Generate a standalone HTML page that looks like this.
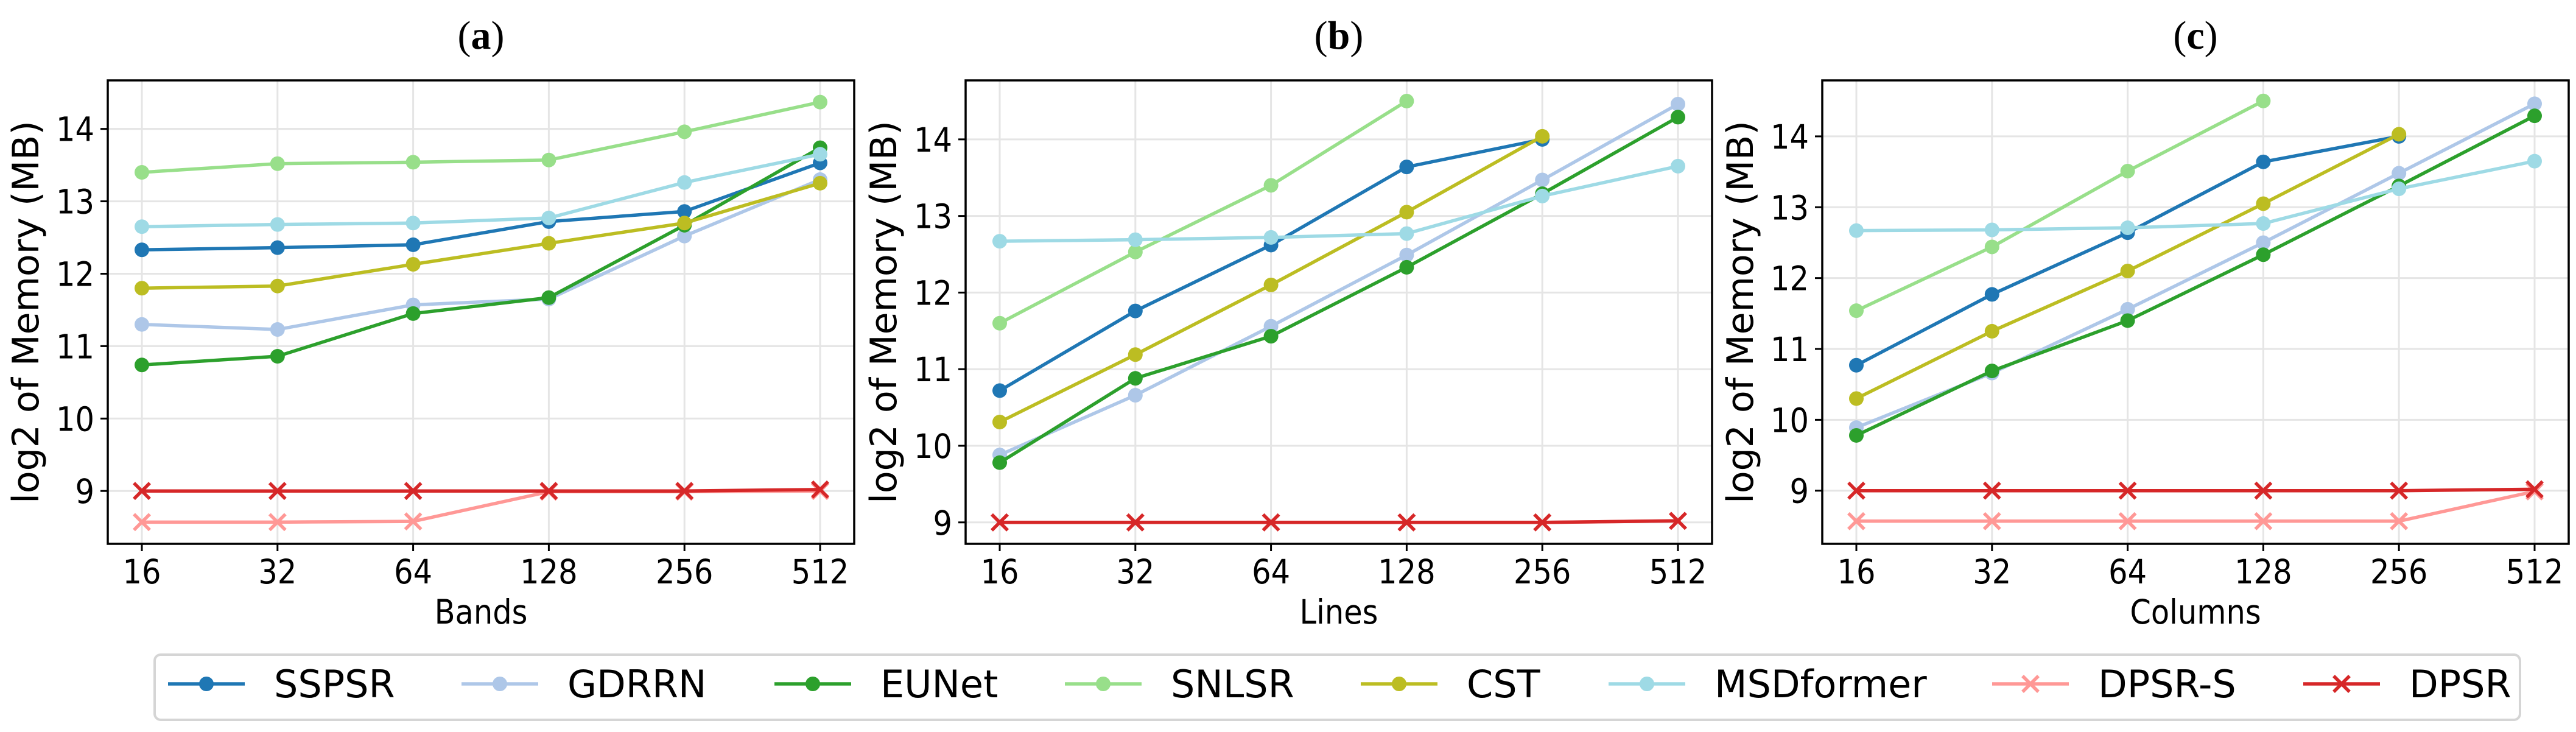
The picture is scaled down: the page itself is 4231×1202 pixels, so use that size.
<!DOCTYPE html>
<html><head><meta charset="utf-8">
<style>
html,body{margin:0;padding:0;background:#fff;}
svg{display:block;}
text{font-family:"DejaVu Sans","Liberation Sans",sans-serif;}
.tick{font-family:"DejaVu Sans Condensed","DejaVu Sans","Liberation Sans",sans-serif;font-size:55px;}
.ttl{font-family:"Liberation Serif","DejaVu Serif",serif;font-size:66px;}
</style></head>
<body>
<svg id="chart" width="4231" height="1202" viewBox="0 0 4231 1202" xmlns="http://www.w3.org/2000/svg"></svg>
<script>
const categories = ["16","32","64","128","256","512"];
const seriesNames = ["SSPSR","GDRRN","EUNet","SNLSR","CST","MSDformer","DPSR-S","DPSR"];
const seriesColors = ["#1f77b4","#aec7e8","#2ca02c","#98df8a","#bcbd22","#9edae5","#ff9896","#d62728"];
const seriesMarkers = ["o","o","o","o","o","o","x","x"];
const yTicks = [9,10,11,12,13,14];
const panelTitles = ["a","b","c"];
const panelXLabels = ["Bands","Lines","Columns"];

const bandsSSPSR = [12.33,12.36,12.40,12.72,12.86,13.53];
const bandsGDRRN = [11.30,11.23,11.57,11.65,12.52,13.30];
const bandsEUNet = [10.74,10.86,11.45,11.67,12.67,13.74];
const bandsSNLSR = [13.40,13.52,13.54,13.57,13.96,14.37];
const bandsCST = [11.80,11.83,12.13,12.42,12.70,13.25];
const bandsMSD = [12.65,12.68,12.70,12.77,13.26,13.65];
const bandsDPSRS = [8.57,8.57,8.58,8.99,8.99,9.00];
const bandsDPSR = [9.00,9.00,9.00,9.00,9.00,9.02];

const linesSSPSR = [10.72,11.76,12.62,13.64,14.00,null];
const linesGDRRN = [9.88,10.66,11.56,12.49,13.47,14.46];
const linesEUNet = [9.78,10.88,11.43,12.33,13.29,14.29];
const linesSNLSR = [11.60,12.53,13.40,14.50,null,null];
const linesCST = [10.31,11.19,12.10,13.05,14.04,null];
const linesMSD = [12.67,12.69,12.72,12.77,13.26,13.65];
const linesDPSRS = [9.00,9.00,9.00,9.00,9.00,9.02];
const linesDPSR = [9.00,9.00,9.00,9.00,9.00,9.02];

const colsSSPSR = [10.77,11.77,12.64,13.64,14.00,null];
const colsGDRRN = [9.89,10.66,11.56,12.50,13.48,14.46];
const colsEUNet = [9.78,10.69,11.40,12.33,13.30,14.29];
const colsSNLSR = [11.54,12.44,13.51,14.50,null,null];
const colsCST = [10.30,11.25,12.10,13.05,14.03,null];
const colsMSD = [12.67,12.68,12.71,12.77,13.26,13.65];
const colsDPSRS = [8.57,8.57,8.57,8.57,8.57,8.99];
const colsDPSR = [9.00,9.00,9.00,9.00,9.00,9.02];

const panelData = [
  [bandsSSPSR,bandsGDRRN,bandsEUNet,bandsSNLSR,bandsCST,bandsMSD,bandsDPSRS,bandsDPSR],
  [linesSSPSR,linesGDRRN,linesEUNet,linesSNLSR,linesCST,linesMSD,linesDPSRS,linesDPSR],
  [colsSSPSR,colsGDRRN,colsEUNet,colsSNLSR,colsCST,colsMSD,colsDPSRS,colsDPSR]
];
const yLims = [[8.27,14.67],[8.72,14.77],[8.25,14.79]];

const NS = "http://www.w3.org/2000/svg";
const svg = document.getElementById("chart");
function mk(tag, attrs, parent){
  const e = document.createElementNS(NS, tag);
  for (const k in attrs) e.setAttribute(k, attrs[k]);
  (parent||svg).appendChild(e);
  return e;
}
const axLefts = [177,1586,2993];
const axW = 1226, axTop = 132, axBot = 893;

for (let p=0;p<3;p++){
  const L = axLefts[p], R = L+axW;
  const g = mk("g",{});
  
  
  const [ymin,ymax] = yLims[p];
  const xs = i => L + 56 + i*(axW-112)/(categories.length-1);
  const ys = v => axBot - (v-ymin)/(ymax-ymin)*(axBot-axTop);
  // grid
  categories.forEach((c,i)=>{
    const gl = mk("line",{x1:xs(i),x2:xs(i),y1:axTop,y2:axBot,stroke:"#e5e5e5","stroke-width":3},g);
    
    
    const tk = mk("line",{x1:xs(i),x2:xs(i),y1:axBot,y2:axBot+12,stroke:"#000","stroke-width":3},g);
    
    
    const t = mk("text",{x:xs(i),y:958,"text-anchor":"middle",class:"tick"},g);
    t.textContent = c;
    
    
  });
  yTicks.forEach(v=>{
    const gl = mk("line",{x1:L,x2:R,y1:ys(v),y2:ys(v),stroke:"#e5e5e5","stroke-width":3},g);
    
    
    const tk = mk("line",{x1:L-12,x2:L,y1:ys(v),y2:ys(v),stroke:"#000","stroke-width":3},g);
    
    
    const t = mk("text",{x:L-22,y:ys(v)+20,"text-anchor":"end",class:"tick"},g);
    t.textContent = v;
    
    
  });
  // series
  panelData[p].forEach((arr,s)=>{
    const col = seriesColors[s];
    const sg = mk("g",{},g);
    
    
    let d = "";
    arr.forEach((v,i)=>{ if(v!==null){ d += (d?"L":"M")+xs(i)+","+ys(v); } });
    const pl = mk("path",{d:d,fill:"none",stroke:col,"stroke-width":5.5,"stroke-linejoin":"round"},sg);
    
    
    arr.forEach((v,i)=>{
      if(v===null) return;
      const cx = xs(i), cy = ys(v);
      let m;
      if(seriesMarkers[s]==="o"){
        m = mk("circle",{cx:cx,cy:cy,r:12,fill:col},sg);
      } else {
        const r = 13;
        m = mk("path",{d:`M${cx-r},${cy-r}L${cx+r},${cy+r}M${cx-r},${cy+r}L${cx+r},${cy-r}`,stroke:col,"stroke-width":5.5,fill:"none"},sg);
      }
      
      
    });
  });
  const fr = mk("rect",{x:L,y:axTop,width:axW,height:axBot-axTop,fill:"none",stroke:"#000","stroke-width":3.5},g);
  
  
  const tt = mk("text",{x:L+axW/2,y:80,"text-anchor":"middle",class:"ttl"},g);
  tt.innerHTML = '(<tspan font-weight="bold">'+panelTitles[p]+'</tspan>)';
  
  
  const xl = mk("text",{x:L+axW/2,y:1024,"text-anchor":"middle",class:"tick"},g);
  xl.textContent = panelXLabels[p];
  
  
  const yl = mk("text",{x:0,y:0,"text-anchor":"middle","font-size":60,transform:`translate(${L-135+21},${(axTop+axBot)/2}) rotate(-90)`},g);
  yl.textContent = "log2 of Memory (MB)";
  
  
}

// legend
const lg = mk("g",{});


const lb = mk("rect",{x:254,y:1075,width:3885,height:107,rx:10,fill:"#fff",stroke:"#d5d5d5","stroke-width":4},lg);


const handleX = [276,758,1272,1749,2235,2642,3272,3783];
seriesNames.forEach((n,s)=>{
  const eg = mk("g",{},lg);
  
  
  const hx = handleX[s], cy = 1123, col = seriesColors[s];
  mk("line",{x1:hx,x2:hx+126,y1:cy,y2:cy,stroke:col,"stroke-width":5.5},eg);
  const cx = hx+63;
  if(seriesMarkers[s]==="o") mk("circle",{cx:cx,cy:cy,r:12,fill:col},eg);
  else { const r=13; mk("path",{d:`M${cx-r},${cy-r}L${cx+r},${cy+r}M${cx-r},${cy+r}L${cx+r},${cy-r}`,stroke:col,"stroke-width":5.5},eg); }
  const t = mk("text",{x:hx+174,y:cy+22,"font-size":62},eg);
  t.textContent = n;
});
</script>
</body></html>
